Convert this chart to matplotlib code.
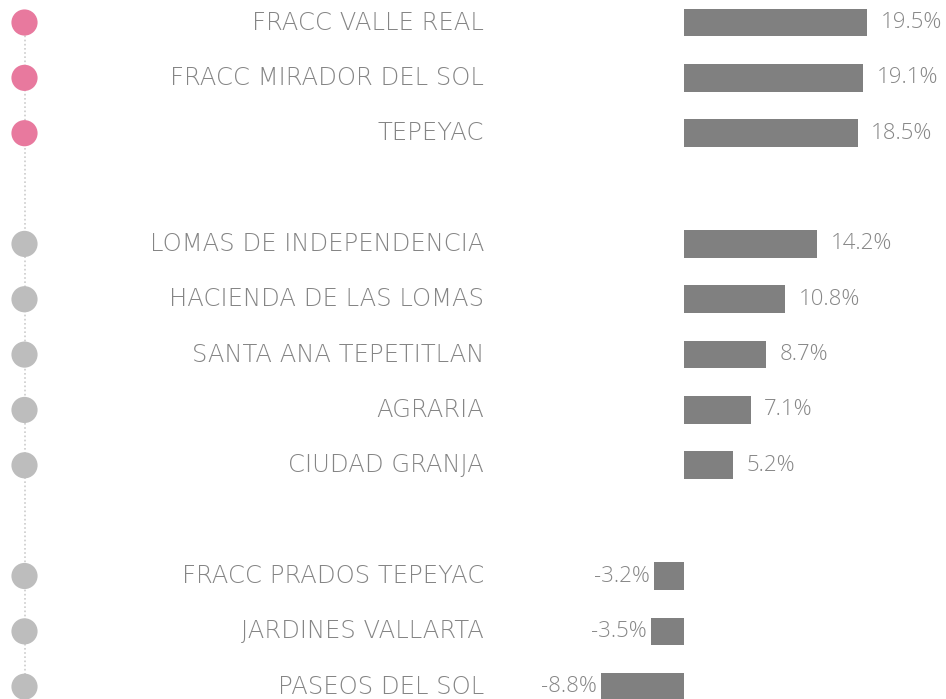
import numpy as np
import matplotlib.pyplot as plt

# data, top to bottom (None = empty spacer row)
labels = ["FRACC VALLE REAL", "FRACC MIRADOR DEL SOL", "TEPEYAC", None,
          "LOMAS DE INDEPENDENCIA", "HACIENDA DE LAS LOMAS", "SANTA ANA TEPETITLAN",
          "AGRARIA", "CIUDAD GRANJA", None,
          "FRACC PRADOS TEPEYAC", "JARDINES VALLARTA", "PASEOS DEL SOL"]
values = [19.5, 19.1, 18.5, None, 14.2, 10.8, 8.7, 7.1, 5.2, None, -3.2, -3.5, -8.8]
top_rows = 3  # highlighted in pink

PINK = "#e8799e"
GREY_DOT = "#bdbdbd"
BAR = "#808080"
TXT = "#878787"

plt.rcParams['font.family'] = ['Open Sans', 'DejaVu Sans']

fig = plt.figure(figsize=(9.46, 6.99), dpi=100)
ax = fig.add_axes([0, 0, 1, 1])

px = 9.38  # pixels per percent unit
ax.set_xlim(-684 / px, (946 - 684) / px)
ax.set_ylim((699 - 22.5) / 55.35, -22.5 / 55.35)
ax.axis("off")

rows = [i for i, l in enumerate(labels) if l is not None]
dot_x = (24.5 - 684) / px
lab_x = (484 - 684) / px

# dotted spine
ax.plot([dot_x, dot_x], [0, 13], ls=(0, (1, 1.5)), color="#cccccc", lw=1.2, zorder=1)

for i in rows:
    v = values[i]
    c = PINK if i < top_rows else GREY_DOT
    ax.scatter([dot_x], [i], s=355, color=c, edgecolors="none", zorder=2)
    ax.text(lab_x, i, labels[i], ha="right", va="center", fontsize=17.5,
            color="#858585", family=["DejaVu Sans"], fontweight="light")
    ax.barh(i, v, height=0.5, color=BAR, zorder=2)
    if v >= 0:
        ax.text(v + 1.45, i, f"{v:.1f}%", ha="left", va="center",
                fontsize=16, color=TXT, fontweight="light")
    else:
        ax.text(v - 0.45, i, f"{v:.1f}%", ha="right", va="center",
                fontsize=16, color=TXT, fontweight="light")

fig.savefig("out.png", dpi=100)
